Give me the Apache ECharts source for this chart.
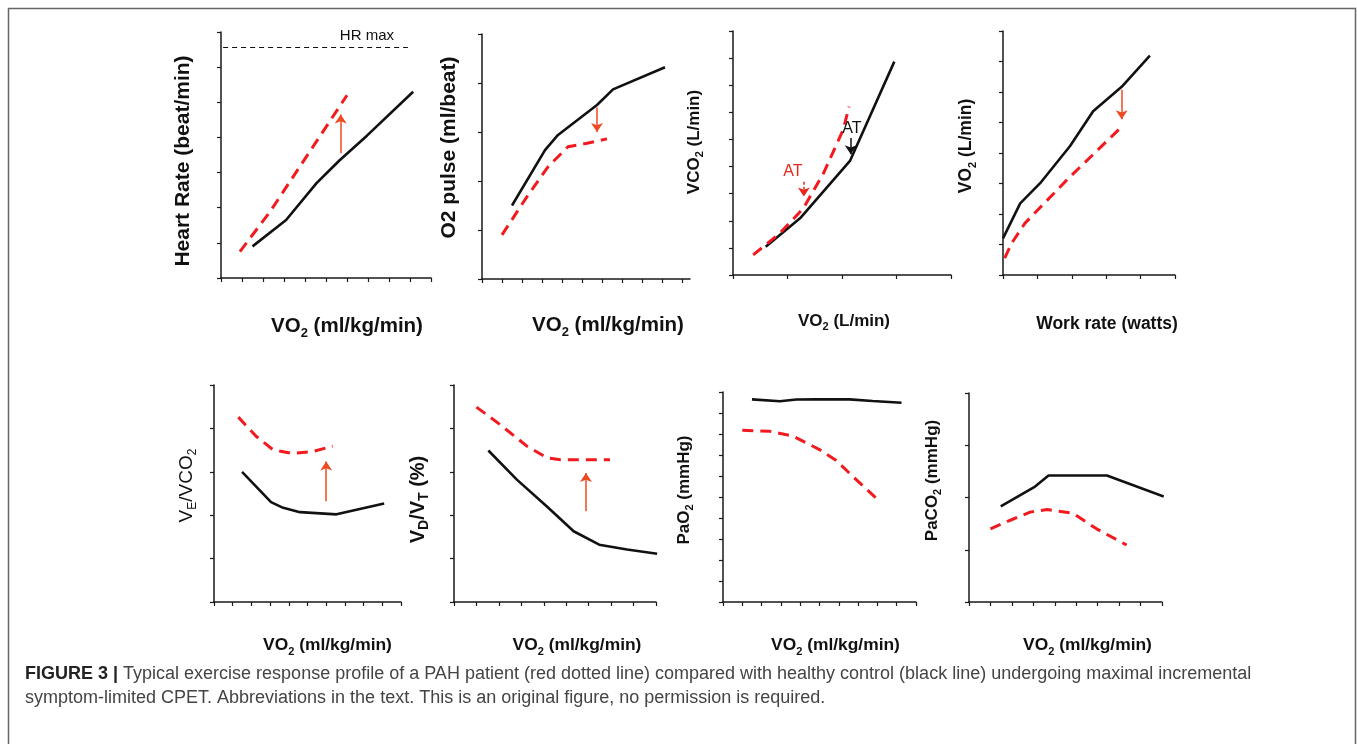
<!DOCTYPE html>
<html><head><meta charset="utf-8">
<script src="https://cdn.jsdelivr.net/npm/echarts@6/dist/echarts.min.js"></script>
<style>html,body{margin:0;padding:0;background:#fff}#c{width:1357px;height:744px}</style>
</head><body><div id="c"></div><script>
// ---------- DATA (arbitrary units) ----------
// Panel 1: Heart rate vs VO2
const hrControl = [[1.5,0.9],[3.1,1.65],[4.55,2.7],[5.65,3.35],[6.95,4.05],[9.15,5.3]];
const hrPAH = [[0.9,0.75],[2.35,1.9],[6.0,5.2]];
const hrArrow = [5.7, 3.55, 4.65];          // x, from y, to y
const hrMax = 6.58;
const hrMaxRange = [0.1, 8.9];
const hrMaxLabel = [6.95, 6.58];
// Panel 2: O2 pulse vs VO2
const o2Control = [[1.5,1.5],[3.15,2.63],[3.8,2.94],[5.75,3.55],[6.55,3.87],[9.15,4.32]];
const o2PAH = [[1.0,0.9],[2.25,1.68],[3.3,2.29],[4.3,2.7],[5.25,2.77],[6.25,2.86]];
const o2Arrow = [5.75, 3.5, 3.0];
// Panel 3: VCO2 vs VO2
const vco2Control = [[0.6,1.04],[1.23,2.09],[2.15,4.22],[2.96,7.87]];
const vco2PAH = [[0.37,0.74],[0.86,1.54],[1.29,2.46],[1.66,3.75],[2.02,5.35],[2.13,6.21]];
const atControlArrow = [2.16, 5.05, 4.45];
const atControlLabel = [2.18, 5.41];
const atPAHArrow = [1.3, 3.44, 2.9];
const atPAHLabel = [1.1, 3.81];
// Panel 4: VO2 vs work rate
const vo2Control = [[0.0,1.2],[0.5,2.35],[1.08,3.01],[1.95,4.23],[2.62,5.37],[3.45,6.17],[4.27,7.19]];
const vo2PAH = [[0.05,0.55],[0.25,1.04],[0.64,1.7],[1.85,3.11],[3.45,4.86]];
const vo2Arrow = [3.45, 6.07, 5.11];
// Panel 5: VE/VCO2 vs VO2
const veControl = [[1.5,3.0],[3.05,2.3],[3.7,2.17],[4.6,2.07],[6.55,2.02],[9.1,2.27]];
const vePAH = [[1.3,4.26],[2.25,3.82],[3.15,3.51],[4.2,3.42],[5.3,3.47],[6.35,3.59]];
const veArrow = [6.0, 2.32, 3.24];
// Panel 6: VD/VT vs VO2
const vdControl = [[1.53,3.49],[2.8,2.82],[4.14,2.2],[5.33,1.63],[6.47,1.32],[7.71,1.21],[9.05,1.11]];
const vdPAH = [[1.0,4.49],[2.05,4.09],[3.25,3.59],[4.15,3.32],[4.75,3.28],[6.95,3.28]];
const vdArrow = [5.88, 2.09, 2.97];
// Panel 7: PaO2 vs VO2
const pao2Control = [[1.5,9.65],[2.95,9.56],[3.8,9.64],[4.85,9.65],[6.55,9.65],[7.75,9.57],[9.25,9.49]];
const pao2PAH = [[1.0,8.18],[2.4,8.13],[3.6,7.91],[5.0,7.26],[5.85,6.75],[6.75,5.96],[8.1,4.81]];
// Panel 8: PaCO2 vs VO2
const paco2Control = [[1.48,1.83],[3.08,2.21],[3.71,2.42],[6.43,2.42],[9.08,2.02]];
const paco2PAH = [[1.0,1.4],[1.9,1.56],[2.85,1.72],[3.65,1.77],[4.85,1.7],[5.95,1.4],[7.35,1.09]];

// axis tick counts [x intervals, y intervals]
const tickCounts = [[10,7],[10,5],[4,9],[5,8],[10,5],[9,5],[10,10],[9,4]];

// axis titles: arrays alternate normal / subscript pieces
const xTitles = [
  ['VO','2',' (ml/kg/min)'], ['VO','2',' (ml/kg/min)'], ['VO','2',' (L/min)'], ['Work rate (watts)'],
  ['VO','2',' (ml/kg/min)'], ['VO','2',' (ml/kg/min)'], ['VO','2',' (ml/kg/min)'], ['VO','2',' (ml/kg/min)']
];
const yTitles = [
  ['Heart Rate (beat/min)'], ['O2 pulse (ml/beat)'], ['VCO','2',' (L/min)'], ['VO','2',' (L/min)'],
  ['V','E','/VCO','2'], ['V','D','/V','T',' (%)'], ['PaO','2',' (mmHg)'], ['PaCO','2',' (mmHg)']
];
const captionBold = 'FIGURE 3 |';
const captionLine1 = ' Typical exercise response profile of a PAH patient (red dotted line) compared with healthy control (black line) undergoing maximal incremental';
const captionLine2 = 'symptom-limited CPET. Abbreviations in the text. This is an original figure, no permission is required.';

// ---------- LAYOUT / STYLE ----------
const FONT = '"Liberation Sans", Arial, Helvetica, sans-serif';
const BLACK = '#111111', RED = '#f21a1f', ARROW = '#ee4a22', AXIS = '#1a1a1a';

const layout = [
  {grid:{left:221,top:32,width:210,height:246}, xMax:10, yMax:7,
   xf:20.5, xgap:35, xshift:21, yf:21, ygap:24, yshift:-6, yw:'bold', sub:0.62},
  {grid:{left:482,top:34,width:208,height:245}, xMax:10.4, yMax:5,
   xf:20.5, xgap:33, xshift:22, yf:21, ygap:19, yshift:9, yw:'bold', sub:0.62},
  {grid:{left:733,top:31,width:218,height:244}, xMax:4, yMax:9,
   xf:17, xgap:35, xshift:2, yf:17, ygap:28, yshift:11, yw:'bold', sub:0.62},
  {grid:{left:1003,top:31,width:172,height:244}, xMax:5, yMax:8,
   xf:17.5, xgap:38, xshift:18, yf:17.5, ygap:25, yshift:7, yw:'bold', sub:0.62},
  {grid:{left:214,top:385,width:187,height:217}, xMax:10, yMax:5,
   xf:17.4, xgap:32, xshift:20, yf:19, ygap:15, yshift:8, yw:'normal', sub:0.62},
  {grid:{left:454,top:385,width:202,height:217}, xMax:9, yMax:5,
   xf:17.4, xgap:32, xshift:22, yf:20, ygap:23, yshift:-6, yw:'bold', sub:0.68},
  {grid:{left:723,top:392,width:193,height:210}, xMax:10, yMax:10,
   xf:17.4, xgap:32, xshift:16, yf:17, ygap:28, yshift:7, yw:'bold', sub:0.62},
  {grid:{left:969,top:393,width:193,height:209}, xMax:9, yMax:4,
   xf:17.4, xgap:32, xshift:22, yf:17, ygap:26, yshift:17, yw:'bold', sub:0.62}
];

function richName(parts){
  return parts.map((p,i)=> (i%2===0 ? '{n|' : '{s|') + p + '}').join('');
}
function richStyles(f, w, r){
  const sf = Math.round(f*(r||0.62));
  return {
    n:{fontSize:f, fontWeight:w, fontFamily:FONT, color:'#111', lineHeight:Math.round(f*1.3)},
    s:{fontSize:sf, fontWeight:w, fontFamily:FONT, color:'#111', lineHeight:sf, verticalAlign:'bottom'}
  };
}
function range(n){ const a=[]; for(let i=0;i<=n;i++) a.push(i); return a; }

const grids=[], xAxes=[], yAxes=[], series=[];
layout.forEach((L,i)=>{
  grids.push(Object.assign({outerBoundsMode:'none', containLabel:false}, L.grid));
  const [nx, ny] = tickCounts[i];
  const xs = L.xshift, ys = L.yshift;
  xAxes.push({
    type:'value', gridIndex:i, min:0, max:L.xMax, interval:1,
    axisLine:{show:true, onZero:false, lineStyle:{color:AXIS, width:1.5}},
    axisTick:{show:true, length:4, inside:false, customValues:range(nx), lineStyle:{color:AXIS, width:1.2}},
    axisLabel:{show:false}, splitLine:{show:false},
    name:richName(xTitles[i]), nameLocation:'middle', nameGap:L.xgap,
    nameTextStyle:{rich:richStyles(L.xf,'bold'), padding: xs>=0 ? [0,0,0,2*xs] : [0,-2*xs,0,0]}
  });
  yAxes.push({
    type:'value', gridIndex:i, min:0, max:L.yMax, interval:1,
    axisLine:{show:true, onZero:false, lineStyle:{color:AXIS, width:1.5}},
    axisTick:{show:true, length:4, inside:false, customValues:range(ny), lineStyle:{color:AXIS, width:1.2}},
    axisLabel:{show:false}, splitLine:{show:false},
    name:richName(yTitles[i]), nameLocation:'middle', nameGap:L.ygap, nameRotate:90,
    nameTextStyle:{rich:richStyles(L.yf,L.yw,L.sub), padding: ys>=0 ? [0,0,0,2*ys] : [0,-2*ys,0,0]}
  });
});

function ctrl(i, data, extra){
  return Object.assign({type:'line', xAxisIndex:i, yAxisIndex:i, data, showSymbol:false, symbol:'none',
    lineStyle:{color:BLACK, width:2.6}, z:3}, extra||{});
}
function pah(i, data, extra){
  return Object.assign({type:'line', xAxisIndex:i, yAxisIndex:i, data, showSymbol:false, symbol:'none',
    lineStyle:{color:RED, width:3, type:[11,7]}, z:4}, extra||{});
}
function arrowML(arrs, color, type){
  return {silent:true, symbol:['none','arrow'], symbolSize:9, animation:false,
    label:{show:false}, lineStyle:{color, width:1.5, type:type||'solid'},
    emphasis:{disabled:true},
    data: arrs.map(a=>[{coord:[a[0],a[1]]},{coord:[a[0],a[2]]}])};
}
function textMP(items){
  return {silent:true, symbol:'circle', symbolSize:0, animation:false,
    data: items.map(t=>({coord:t.pos, value:t.text,
      label:{show:true, position:'inside', formatter:t.text, color:t.color, fontSize:t.size,
             fontFamily:FONT, fontWeight:'normal', offset:t.offset||[0,0]}}))};
}

series.push(ctrl(0, hrControl, {
  markLine:{silent:true, symbol:'none', animation:false, label:{show:false},
    lineStyle:{color:'#111', width:1.2, type:[5,4]},
    data:[[{coord:[hrMaxRange[0],hrMax]},{coord:[hrMaxRange[1],hrMax]}]]},
  markPoint:textMP([{pos:hrMaxLabel, text:'HR max', color:'#111', size:15, offset:[0,-11]}])
}));
series.push(pah(0, hrPAH, {markLine:arrowML([hrArrow], ARROW)}));

series.push(ctrl(1, o2Control));
series.push(pah(1, o2PAH, {markLine:arrowML([o2Arrow], ARROW)}));

series.push(ctrl(2, vco2Control, {markLine:arrowML([atControlArrow], BLACK),
  markPoint:textMP([{pos:atControlLabel, text:'AT', color:'#111', size:16}])}));
series.push(pah(2, vco2PAH, {markLine:arrowML([atPAHArrow], '#e8261c', [3,2]),
  markPoint:textMP([{pos:atPAHLabel, text:'AT', color:'#e8261c', size:16}])}));

series.push(ctrl(3, vo2Control));
series.push(pah(3, vo2PAH, {markLine:arrowML([vo2Arrow], ARROW)}));

series.push(ctrl(4, veControl));
series.push(pah(4, vePAH, {markLine:arrowML([veArrow], ARROW)}));

series.push(ctrl(5, vdControl));
series.push(pah(5, vdPAH, {markLine:arrowML([vdArrow], ARROW)}));

series.push(ctrl(6, pao2Control));
series.push(pah(6, pao2PAH));

series.push(ctrl(7, paco2Control));
series.push(pah(7, paco2PAH));

const chart = echarts.init(document.getElementById('c'), null, {renderer:'canvas'});
chart.setOption({
  animation:false,
  backgroundColor:'#ffffff',
  title:{
    left:20, top:657, padding:5,
    text:'{b|'+captionBold+'}{r|'+captionLine1+'}\n{r|'+captionLine2+'}',
    textStyle:{rich:{
      b:{fontFamily:FONT, fontSize:18, fontWeight:'bold', color:'#222', lineHeight:24},
      r:{fontFamily:FONT, fontSize:18, fontWeight:'normal', color:'#444', lineHeight:24}
    }}
  },
  graphic:[{type:'rect', silent:true, shape:{x:8.5, y:8.5, width:1347, height:780},
    style:{fill:'none', stroke:'#666', lineWidth:1.5}}],
  grid:grids, xAxis:xAxes, yAxis:yAxes, series
});
</script></body></html>
